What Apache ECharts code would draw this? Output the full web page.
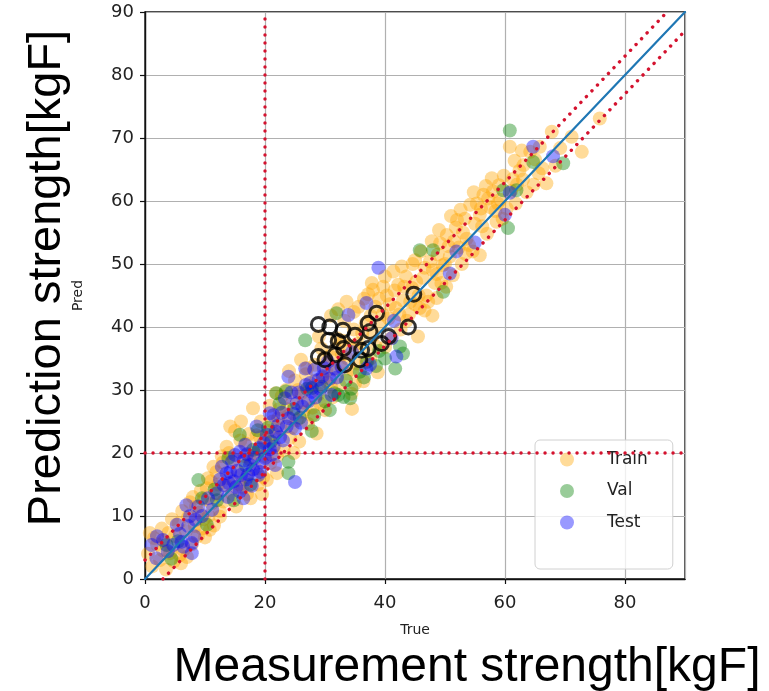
<!DOCTYPE html>
<html>
<head>
<meta charset="utf-8">
<script src="https://cdn.jsdelivr.net/npm/echarts@6/dist/echarts.min.js"></script>
<style>
  html, body { margin: 0; background: #fff; }
  #chart { width: 769px; height: 691px; }
</style>
</head>
<body>
<div id="chart"></div>
<script>
// [true, pred] pairs
const trainPoints = [
  [0.8, 7.3], [0.5, 4.0], [1.2, 2.0], [2.0, 5.5], [2.5, 3.0], [3.2, 6.0], [3.9, 7.3], [3.5, 1.5],
  [4.2, 4.1], [4.8, 2.8], [5.8, 3.8], [5.0, 6.8], [5.6, 8.8], [6.4, 4.6], [6.8, 7.6], [7.2, 9.8],
  [7.8, 5.5], [8.3, 8.4], [8.8, 6.8], [9.0, 10.5], [9.5, 8.0], [9.8, 12.6], [10.0, 6.6], [8.0, 13.0],
  [6.2, 10.8], [1.5, 6.5], [2.8, 8.0], [4.5, 9.5], [6.0, 2.5], [7.0, 3.5], [8.5, 11.5], [9.3, 14.0],
  [3.0, 4.5], [7.5, 12.2], [9.8, 9.5],
  [10.3, 14.4], [10.6, 10.0], [11.1, 12.0], [11.4, 17.8], [11.9, 17.0], [11.5, 8.5], [12.2, 15.0],
  [12.5, 10.8], [13.1, 12.3], [13.6, 21.0], [13.9, 16.0], [14.2, 24.2], [14.5, 13.5], [14.8, 19.0],
  [15.2, 11.5], [15.5, 17.0], [15.9, 22.0], [16.3, 14.5], [16.6, 19.5], [17.0, 16.2], [17.3, 23.0],
  [17.6, 12.8], [18.0, 27.1], [18.2, 20.0], [18.5, 17.5], [18.8, 15.0], [19.2, 22.5], [19.5, 13.5],
  [19.7, 16.2], [19.9, 19.5], [20.3, 15.7], [12.8, 19.5], [16.0, 25.0], [10.8, 7.8], [12.5, 9.9],
  [10.5, 16.0], [11.8, 13.5], [13.0, 18.5], [14.0, 20.0], [15.0, 23.5], [15.8, 15.0], [16.8, 21.5],
  [17.5, 19.0], [18.6, 22.8], [19.3, 25.0], [20.0, 21.8], [11.0, 15.5], [13.5, 14.8], [17.0, 13.5],
  [20.6, 23.5], [20.9, 18.4], [21.3, 25.0], [21.6, 21.2], [22.0, 16.8], [22.4, 27.0], [22.7, 23.8],
  [23.1, 20.4], [23.5, 30.0], [23.8, 25.8], [24.2, 22.4], [24.6, 28.2], [25.0, 31.5], [25.3, 25.2],
  [25.7, 21.8], [26.1, 29.5], [26.4, 26.5], [26.8, 32.5], [27.2, 24.6], [27.5, 30.6], [27.9, 27.2],
  [28.3, 34.0], [28.6, 23.1], [29.0, 29.4], [29.4, 36.6], [29.7, 32.0], [30.0, 26.8], [24.0, 33.0],
  [21.8, 29.5], [26.0, 34.8], [20.8, 27.5], [21.5, 23.0], [22.2, 25.5], [22.8, 29.0], [23.6, 27.0],
  [24.5, 24.0], [25.5, 30.0], [26.5, 28.0], [27.0, 33.5], [27.8, 26.0], [28.5, 31.5], [29.2, 27.8],
  [29.8, 35.0], [22.0, 19.5], [24.8, 20.0], [29.0, 38.5],
  [30.4, 31.2], [30.8, 35.4], [31.2, 28.8], [31.6, 33.2], [32.0, 38.2], [32.4, 30.8], [32.8, 35.6],
  [33.2, 41.0], [33.6, 32.6], [34.0, 37.0], [34.4, 29.4], [34.8, 39.6], [35.2, 34.2], [35.6, 43.2],
  [36.0, 36.6], [36.4, 31.4], [36.8, 40.6], [37.2, 45.2], [37.6, 35.0], [38.0, 38.6], [38.4, 43.2],
  [38.8, 32.8], [39.2, 40.2], [39.7, 46.4], [40.0, 36.8], [34.5, 27.0], [31.0, 41.8], [38.0, 45.9],
  [30.2, 33.0], [31.0, 30.5], [31.8, 36.5], [32.5, 34.0], [33.0, 37.8], [33.8, 35.0], [34.6, 33.2],
  [35.4, 37.4], [36.2, 39.0], [36.8, 34.4], [37.6, 41.8], [38.4, 37.0], [39.0, 44.5], [39.6, 42.0],
  [35.0, 31.0], [36.5, 44.5], [37.8, 47.0], [33.6, 44.0], [34.8, 42.4], [32.2, 42.8],
  [40.3, 45.0], [40.6, 41.4], [41.0, 38.2], [41.4, 48.8], [41.8, 43.0], [42.2, 46.7], [42.6, 39.6],
  [43.0, 44.2], [43.5, 48.0], [44.0, 42.0], [44.5, 46.2], [45.0, 50.6], [45.5, 38.5], [45.8, 43.0],
  [46.3, 47.8], [46.9, 45.0], [47.5, 50.4], [47.9, 41.8], [48.3, 47.0], [48.6, 44.6], [49.2, 53.3],
  [49.6, 49.8], [40.8, 43.6], [41.6, 45.8], [42.4, 42.0], [43.2, 46.4], [44.2, 44.0], [45.2, 47.2],
  [45.6, 45.0], [46.6, 49.4], [47.2, 44.0], [48.0, 49.0], [48.8, 51.5], [49.4, 47.0], [40.0, 48.0],
  [42.8, 49.6], [44.6, 50.0], [46.0, 52.0], [47.8, 53.6], [49.0, 55.4], [43.6, 41.0], [45.0, 43.6],
  [46.6, 42.6], [48.6, 48.4],
  [50.3, 54.6], [50.8, 51.2], [51.3, 48.2], [51.8, 55.8], [52.3, 52.6], [52.8, 50.0], [53.3, 57.2],
  [53.6, 54.0], [54.2, 59.4], [54.6, 52.0], [55.0, 56.4], [55.8, 57.8], [55.8, 51.4], [56.4, 61.0],
  [57.0, 54.8], [57.6, 59.0], [58.0, 61.5], [58.6, 56.7], [59.2, 60.2], [59.6, 57.2], [50.6, 52.8],
  [51.5, 53.6], [52.0, 57.0], [53.0, 55.0], [54.0, 53.0], [55.3, 59.6], [56.2, 56.0], [57.2, 60.4],
  [58.4, 58.4], [59.0, 62.5], [50.0, 50.0], [51.0, 57.6], [52.6, 58.6], [54.8, 61.4], [56.8, 62.4],
  [57.8, 63.6], [59.8, 64.0], [50.2, 46.4], [53.4, 51.6], [56.0, 58.8], [58.8, 59.6],
  [60.3, 58.8], [60.8, 68.6], [61.3, 63.5], [61.8, 59.6], [62.4, 64.8], [63.1, 65.7], [63.6, 61.4],
  [64.2, 67.8], [64.8, 62.6], [65.6, 64.4], [66.9, 62.8], [67.8, 71.0], [68.4, 65.6], [69.2, 68.4],
  [71.1, 70.2], [72.8, 67.8], [75.8, 73.1], [61.0, 61.6], [62.0, 62.6], [63.0, 63.4], [65.0, 66.6],
  [66.2, 65.2], [61.6, 66.4], [62.8, 68.0], [65.8, 68.6]
];

const valPoints = [
  [3.6, 5.4], [4.4, 3.2], [8.9, 15.7], [10.3, 8.6], [12.0, 12.5], [13.9, 19.2], [11.6, 14.2],
  [15.8, 22.9], [16.8, 18.0], [17.6, 15.0], [19.0, 20.6], [20.5, 24.0], [18.0, 20.5], [5.5, 6.0],
  [9.5, 12.8], [14.8, 12.5], [18.8, 23.6], [21.0, 21.8],
  [21.9, 29.5], [22.4, 27.8], [23.5, 29.8], [23.9, 18.6], [23.9, 16.8], [24.8, 27.0], [26.7, 37.9],
  [27.8, 23.5], [28.2, 26.0], [27.8, 30.3], [29.5, 30.5], [30.8, 26.8], [31.6, 29.5], [31.9, 42.2],
  [32.2, 29.2], [33.1, 28.9], [34.2, 28.7], [34.4, 30.2], [35.8, 32.9], [37.0, 34.5], [38.5, 33.8],
  [40.0, 35.0], [41.7, 33.4], [42.5, 36.9], [43.0, 35.8], [25.8, 25.6], [27.0, 30.2], [30.0, 28.2],
  [33.5, 31.5], [36.5, 32.0], [39.0, 36.2],
  [45.8, 52.2], [48.0, 52.2], [49.7, 45.6], [59.7, 61.7], [61.9, 61.7], [60.5, 55.7], [60.8, 71.2],
  [64.7, 66.2], [69.7, 66.0]
];

const testPoints = [
  [1.1, 5.4], [1.9, 3.3], [3.0, 6.2], [4.7, 5.4], [6.1, 5.9], [6.4, 5.1], [7.8, 4.1], [7.8, 5.7],
  [5.3, 8.6], [6.9, 11.7], [7.5, 10.0], [8.9, 11.5], [8.2, 6.8], [2.0, 6.8], [5.8, 7.2], [7.2, 8.4],
  [9.5, 10.0], [3.8, 4.4], [8.4, 9.4],
  [12.5, 15.8], [13.1, 14.9], [13.6, 16.8], [13.8, 13.0], [14.2, 17.0], [14.8, 15.5], [15.0, 19.7],
  [15.8, 13.9], [15.8, 20.2], [16.0, 16.5], [16.4, 12.8], [16.7, 21.3], [17.0, 19.8], [17.5, 18.1],
  [17.8, 14.8], [18.6, 24.2], [18.9, 16.5], [19.0, 20.8], [19.5, 18.5], [20.3, 22.9], [20.8, 26.3],
  [12.0, 13.6], [14.5, 18.6], [15.4, 17.2], [16.5, 18.8], [17.2, 16.6], [18.2, 19.2], [19.8, 21.6],
  [10.5, 12.8], [11.2, 11.0], [12.8, 17.8], [14.0, 15.2], [15.2, 14.6], [16.8, 15.8], [18.0, 17.4],
  [19.2, 17.0], [20.0, 19.2],
  [21.1, 19.7], [21.4, 26.0], [21.7, 18.1], [22.5, 22.5], [23.3, 28.7], [23.9, 32.1], [24.0, 25.5],
  [25.0, 23.9], [25.0, 15.4], [25.3, 27.9], [26.0, 24.8], [26.7, 33.4], [27.2, 28.2], [27.5, 31.1],
  [27.8, 29.7], [28.9, 31.6], [29.8, 33.5], [30.5, 34.5], [31.1, 29.2], [32.0, 32.0], [20.8, 20.6],
  [21.8, 23.4], [22.8, 26.4], [23.6, 24.2], [24.4, 29.6], [26.2, 27.4], [28.2, 33.2], [29.2, 30.2],
  [30.8, 31.8], [21.4, 21.0], [22.2, 24.4], [23.0, 22.0], [24.8, 26.2], [25.6, 29.6], [26.8, 30.8],
  [28.4, 28.8], [29.6, 32.2], [31.6, 33.4], [32.8, 33.6],
  [33.9, 41.9], [34.5, 36.0], [36.9, 43.8], [36.9, 33.4], [37.5, 34.0], [38.9, 49.4], [41.1, 38.2],
  [41.5, 41.0], [41.9, 35.3],
  [50.8, 48.5], [51.9, 52.0], [55.0, 53.4], [60.0, 57.8], [60.8, 61.3], [64.7, 68.6], [68.0, 67.1]
];

// points drawn as black open rings
const flaggedPoints = [
  [28.9, 40.4], [30.8, 40.0], [33.0, 39.5], [30.6, 37.9], [32.2, 37.7], [38.6, 42.2], [37.2, 40.6],
  [43.9, 40.0], [44.8, 45.2], [40.6, 38.5], [37.5, 39.3], [28.9, 35.3], [30.0, 34.8], [31.7, 35.6],
  [33.1, 36.6], [36.1, 36.3], [37.2, 36.6], [35.8, 34.8], [33.3, 34.0], [35.0, 38.7], [39.4, 37.4]
];

const identityLine = [[0, 0], [90, 90]];
const upperBand = [[0, 3], [87, 90]];
const lowerBand = [[3, 0], [90, 87]];
const trueCut = [[20, 0], [20, 90]];
const predCut = [[0, 20], [90, 20]];

const TRAIN = 'rgba(255, 165, 0, 0.5)';
const VAL = 'rgba(0, 128, 0, 0.5)';
const TEST = 'rgba(0, 0, 255, 0.5)';
const CUT_RED = '#d4122e';
const DOTS = [0.1, 7.9];

const chart = echarts.init(document.getElementById('chart'), null, { renderer: 'canvas' });

const axisCommon = {
  type: 'value',
  min: 0,
  max: 90,
  axisLine: { show: true, lineStyle: { color: '#111', width: 1.4 } },
  axisTick: { show: true, length: 5, lineStyle: { color: '#111', width: 1.2 } },
  axisLabel: {
    fontFamily: 'DejaVu Sans',
    fontSize: 18,
    color: '#222',
    showMaxLabel: false,
  },
  splitLine: { show: true, lineStyle: { color: '#b0b0b0', width: 1.2 } },
  nameLocation: 'middle',
  nameTextStyle: { fontFamily: 'DejaVu Sans', fontSize: 14, color: '#222' },
};

function scatter(name, data, color) {
  return {
    name,
    type: 'scatter',
    data,
    symbol: 'circle',
    symbolSize: 14,
    itemStyle: { color },
    z: 2,
  };
}

function refLine(data, color, type, width) {
  return {
    type: 'line',
    data,
    symbol: 'none',
    silent: true,
    lineStyle: { color, type, width, cap: 'round' },
    z: 5,
  };
}

chart.setOption({
  animation: false,
  grid: {
    left: 145,
    top: 12,
    width: 540,
    height: 567,
    show: true,
    borderColor: '#111',
    borderWidth: 1.4,
  },
  xAxis: {
    ...axisCommon,
    interval: 20,
    name: 'True',
    nameGap: 44,
    axisLabel: { ...axisCommon.axisLabel, margin: 15 },
  },
  yAxis: {
    ...axisCommon,
    interval: 10,
    name: 'Pred',
    nameGap: 60,
    axisLabel: { ...axisCommon.axisLabel, margin: 11, showMaxLabel: true },
  },
  legend: {
    data: ['Train', 'Val', 'Test'],
    orient: 'vertical',
    left: 535,
    top: 440,
    icon: 'circle',
    itemWidth: 14,
    itemHeight: 14,
    itemGap: 14.5,
    padding: [11, 25, 38, 25],
    backgroundColor: 'rgba(255,255,255,0.8)',
    borderColor: '#d0d0d0',
    borderWidth: 1,
    borderRadius: 5,
    textStyle: {
      fontFamily: 'DejaVu Sans',
      fontSize: 17,
      color: '#222',
      padding: [0, 0, 0, 28],
    },
  },
  graphic: [
    {
      type: 'text',
      x: 47,
      y: 278,
      rotation: Math.PI / 2,
      style: {
        text: 'Prediction strength[kgF]',
        font: '47px "Liberation Sans"',
        fill: '#000',
        align: 'center',
        verticalAlign: 'middle',
      },
    },
    {
      type: 'text',
      x: 467,
      y: 668,
      style: {
        text: 'Measurement strength[kgF]',
        font: '48px "Liberation Sans"',
        fill: '#000',
        align: 'center',
        verticalAlign: 'middle',
      },
    },
  ],
  series: [
    scatter('Train', trainPoints, TRAIN),
    scatter('Val', valPoints, VAL),
    scatter('Test', testPoints, TEST),
    {
      type: 'scatter',
      data: flaggedPoints,
      symbol: 'circle',
      symbolSize: 14,
      itemStyle: { color: 'rgba(0,0,0,0)', borderColor: '#000', borderWidth: 3 },
      z: 3,
    },
    refLine(trueCut, CUT_RED, DOTS, 3.4),
    refLine(predCut, CUT_RED, DOTS, 3.4),
    refLine(upperBand, CUT_RED, DOTS, 3.4),
    refLine(lowerBand, CUT_RED, DOTS, 3.4),
    refLine(identityLine, '#1f77b4', 'solid', 2.2),
  ],
});
</script>
</body>
</html>
